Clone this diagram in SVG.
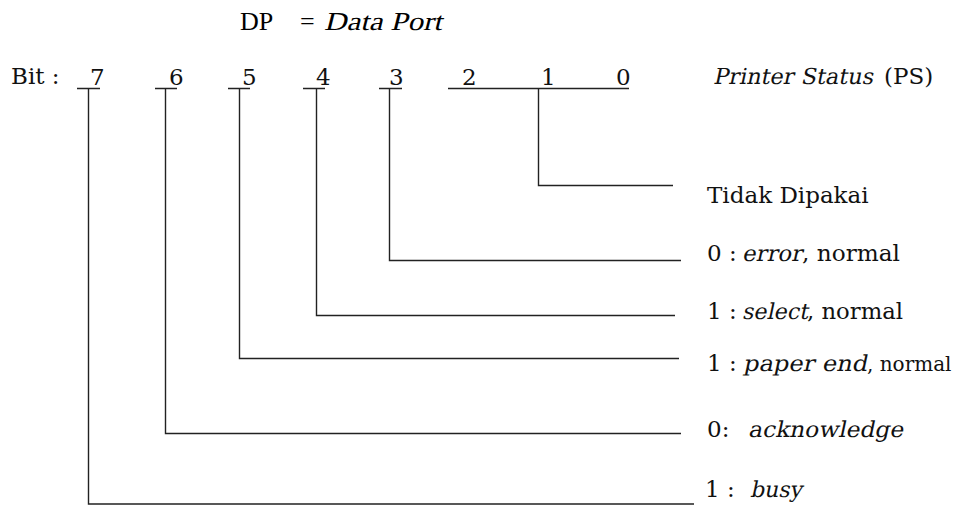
<svg xmlns="http://www.w3.org/2000/svg" width="961" height="505" viewBox="0 0 961 505">
<style>
.t{font-family:"DejaVu Serif","Liberation Serif",serif;font-size:23px;fill:#111}
.i{font-family:"DejaVu Serif","Liberation Serif",serif;font-size:22px;fill:#111}
.h{font-family:"Liberation Serif","Times New Roman",serif;font-size:26px;fill:#000}
.s{font-size:20px}
.c{fill:none;stroke:#222;stroke-width:1.4}
</style>
<rect width="961" height="505" fill="#fff"/>
<g id="title"><text class="h" x="240" y="30">DP</text><text class="h" x="300" y="30">=</text><text class="h" transform="translate(324,30) skewX(-14)" textLength="118" lengthAdjust="spacingAndGlyphs">Data Port</text></g>
<g id="header"><text class="t" x="11" y="84">Bit :</text><text class="i" transform="translate(713,84) skewX(-12)" textLength="160" lengthAdjust="spacingAndGlyphs">Printer Status</text><text class="t" x="884" y="84">(PS)</text></g>
<g id="bit7"><text class="t" x="90" y="85">7</text></g>
<g id="bit6"><text class="t" x="169" y="85">6</text></g>
<g id="bit5"><text class="t" x="242" y="85">5</text></g>
<g id="bit4"><text class="t" x="316" y="85">4</text></g>
<g id="bit3"><text class="t" x="389" y="85">3</text></g>
<g id="bit2"><text class="t" x="462" y="85">2</text></g>
<g id="bit1"><text class="t" x="541" y="85">1</text></g>
<g id="bit0"><text class="t" x="616" y="85">0</text></g>
<g id="desc1"><text class="t" x="707" y="203">Tidak Dipakai</text></g>
<g id="desc3"><text class="t" x="707" y="261">0 :</text><text class="i" transform="translate(742,261) skewX(-12)" textLength="60" lengthAdjust="spacingAndGlyphs">error</text><text class="t" x="802" y="261" textLength="98" lengthAdjust="spacingAndGlyphs">, normal</text></g>
<g id="desc4"><text class="t" x="707" y="319">1 :</text><text class="i" transform="translate(742,319) skewX(-12)" textLength="66" lengthAdjust="spacingAndGlyphs">select</text><text class="t" x="807" y="319" textLength="96" lengthAdjust="spacingAndGlyphs">, normal</text></g>
<g id="desc5"><text class="t" x="707" y="371">1 :</text><text class="i" transform="translate(743,371) skewX(-12)" textLength="124" lengthAdjust="spacingAndGlyphs">paper end</text><text class="t s" x="867" y="371">, normal</text></g>
<g id="desc6"><text class="t" x="707" y="437">0:</text><text class="i" transform="translate(748,437) skewX(-12)" textLength="155" lengthAdjust="spacingAndGlyphs">acknowledge</text></g>
<g id="desc7"><text class="t" x="705" y="497">1 :</text><text class="i" transform="translate(750,497) skewX(-12)" textLength="52" lengthAdjust="spacingAndGlyphs">busy</text></g>
<g id="connectors">
<path class="c" d="M77 88.5H100M88.5 88.5V504H694"/>
<path class="c" d="M155 88.5H177M165.5 88.5V433.5H681"/>
<path class="c" d="M228 88.5H250M239.5 88.5V358.5H679"/>
<path class="c" d="M303 88.5H325M316.5 88.5V315.5H675"/>
<path class="c" d="M379 88.5H402M389.5 88.5V260.5H681"/>
<path class="c" d="M448 88.5H629M538.5 88.5V185.5H673"/>
</g>
</svg>
